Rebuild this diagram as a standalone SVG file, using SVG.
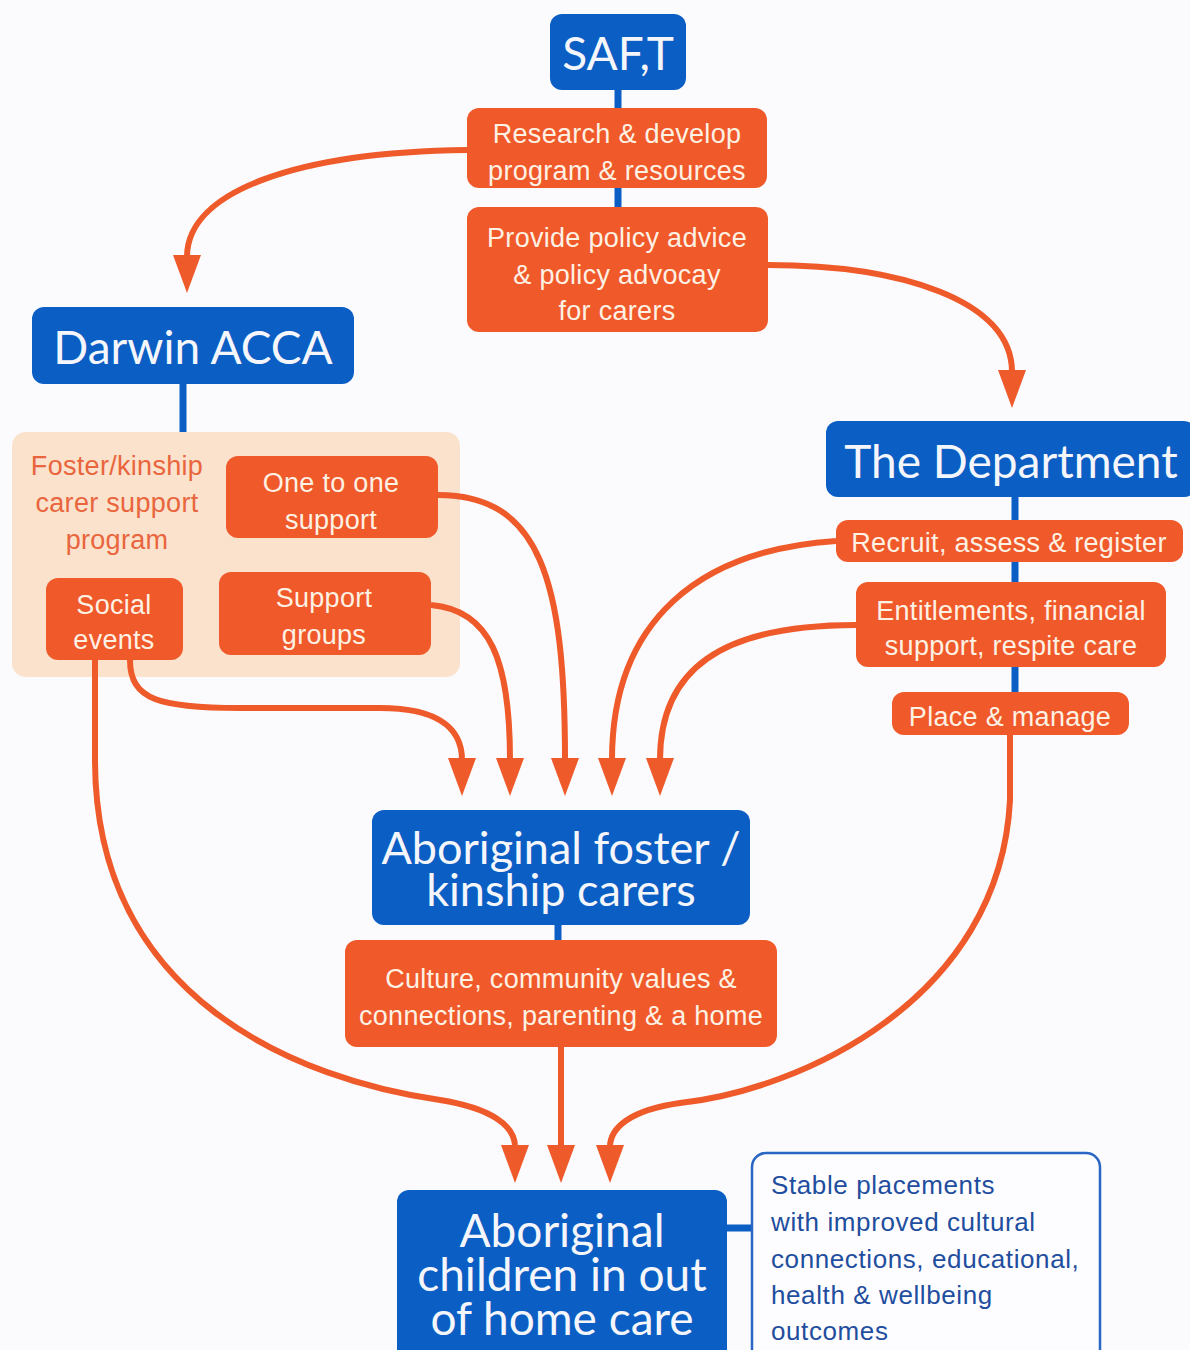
<svg xmlns="http://www.w3.org/2000/svg" width="1190" height="1350" viewBox="0 0 1190 1350">
<defs>
<marker id="ah" markerUnits="userSpaceOnUse" viewBox="0 0 38 28" refX="2" refY="14" markerWidth="38" markerHeight="28" orient="auto">
<path d="M0,0 L38,14 L0,28 Z" fill="#ef5a2b"/>
</marker>
<style>
.blue{fill:#0b5ec3}
.or{fill:#f0592a}
.bl{stroke:#0b5ec3;stroke-width:7;fill:none}
.t{font-family:Lato,"Open Sans",sans-serif;fill:#f4f6fb;text-anchor:middle}
.o{font-family:"Liberation Sans",Arial,sans-serif;font-size:27px;letter-spacing:0.3px;fill:#fdf1e4;text-anchor:middle}
.c{stroke:#ef5a2b;stroke-width:6;fill:none;marker-end:url(#ah)}
</style>
</defs>
<rect width="1190" height="1350" fill="#fbfbfd"/>
<g id="links-tree">
<line class="bl" x1="618" y1="88" x2="618" y2="110"/>
<line class="bl" x1="618" y1="186" x2="618" y2="209"/>
<line class="bl" x1="183" y1="382" x2="183" y2="434"/>
<line class="bl" x1="1015" y1="495" x2="1015" y2="522"/>
<line class="bl" x1="1015" y1="560" x2="1015" y2="584"/>
<line class="bl" x1="1015" y1="665" x2="1015" y2="694"/>
<line class="bl" x1="558" y1="923" x2="558" y2="942"/>
<line class="bl" x1="725" y1="1228" x2="754" y2="1228"/>
</g>
<g id="saft"><rect class="blue" x="550" y="14" width="136" height="76" rx="12"/><text class="t" x="618" y="70" font-size="46">SAF,T</text></g>
<g id="research"><rect class="or" x="467" y="108" width="300" height="80" rx="12"/><text class="o" x="617" y="143">Research &amp; develop</text><text class="o" x="617" y="180">program &amp; resources</text></g>
<g id="policy"><rect class="or" x="467" y="207" width="301" height="125" rx="12"/><text class="o" x="617" y="247">Provide policy advice</text><text class="o" x="617" y="284">&amp; policy advocay</text><text class="o" x="617" y="320">for carers</text></g>
<g id="darwin"><rect class="blue" x="32" y="307" width="322" height="77" rx="12"/><text class="t" x="193" y="364" font-size="46">Darwin ACCA</text></g>
<g id="program"><rect x="12" y="432" width="448" height="245" rx="14" fill="#fbe2cc"/><text class="o" x="117" y="475" style="fill:#e9653d">Foster/kinship</text><text class="o" x="117" y="512" style="fill:#e9653d">carer support</text><text class="o" x="117" y="549" style="fill:#e9653d">program</text></g>
<g id="onetoone"><rect class="or" x="226" y="456" width="212" height="82" rx="12"/><text class="o" x="331" y="492">One to one</text><text class="o" x="331" y="529">support</text></g>
<g id="social"><rect class="or" x="46" y="578" width="137" height="82" rx="12"/><text class="o" x="114" y="614">Social</text><text class="o" x="114" y="649">events</text></g>
<g id="groups"><rect class="or" x="219" y="572" width="212" height="83" rx="12"/><text class="o" x="324" y="607">Support</text><text class="o" x="324" y="644">groups</text></g>
<g id="dept"><rect class="blue" x="826" y="421" width="370" height="76" rx="12"/><text class="t" x="1011" y="478" font-size="46">The Department</text></g>
<g id="recruit"><rect class="or" x="836" y="520" width="347" height="42" rx="12"/><text class="o" x="1009" y="552">Recruit, assess &amp; register</text></g>
<g id="entitle"><rect class="or" x="856" y="582" width="310" height="85" rx="12"/><text class="o" x="1011" y="620">Entitlements, financial</text><text class="o" x="1011" y="655">support, respite care</text></g>
<g id="place"><rect class="or" x="892" y="692" width="237" height="43" rx="12"/><text class="o" x="1010" y="726">Place &amp; manage</text></g>
<g id="carers"><rect class="blue" x="372" y="810" width="378" height="115" rx="12"/><text class="t" font-size="45"><tspan x="561" y="864">Aboriginal foster /</tspan><tspan x="561" y="906">kinship carers</tspan></text></g>
<g id="culture"><rect class="or" x="345" y="940" width="432" height="107" rx="12"/><text class="o" x="561" y="988">Culture, community values &amp;</text><text class="o" x="561" y="1025">connections, parenting &amp; a home</text></g>
<g id="children"><rect class="blue" x="397" y="1190" width="330" height="175" rx="12"/><text class="t" font-size="46"><tspan x="562" y="1247">Aboriginal</tspan><tspan x="562" y="1291">children in out</tspan><tspan x="562" y="1335">of home care</tspan></text></g>
<g id="outcomes"><rect x="752" y="1153" width="348" height="210" rx="14" fill="#fdfdff" stroke="#2a66c4" stroke-width="2.5"/>
<g font-family="'Liberation Sans',Arial,sans-serif" font-size="26" letter-spacing="0.6" fill="#1f4e9e"><text x="771" y="1194">Stable placements</text><text x="771" y="1231">with improved cultural</text><text x="771" y="1268">connections, educational,</text><text x="771" y="1304">health &amp; wellbeing</text><text x="771" y="1340">outcomes</text></g></g>
<g id="connectors">
<path class="c" d="M467,150 C300,152 187,190 187,257"/>
<path class="c" d="M768,265 C900,265 1012,300 1012,372"/>
<path class="c" d="M130,660 C130,700 160,708 240,708 L380,708 C440,708 462,730 462,760"/>
<path class="c" d="M431,605 C490,610 510,660 510,760"/>
<path class="c" d="M438,495 C540,495 565,580 565,760"/>
<path class="c" d="M836,541 C700,550 612,620 612,760"/>
<path class="c" d="M856,625 C720,625 660,670 660,760"/>
<path class="c" d="M95,660 L95,760 C95,1000 300,1080 440,1100 C490,1108 515,1125 515,1147"/>
<path class="c" d="M561,1047 L561,1147"/>
<path class="c" d="M1010,735 L1010,800 C1000,1000 800,1090 680,1103 C630,1110 610,1128 610,1147"/>
</g>
</svg>
